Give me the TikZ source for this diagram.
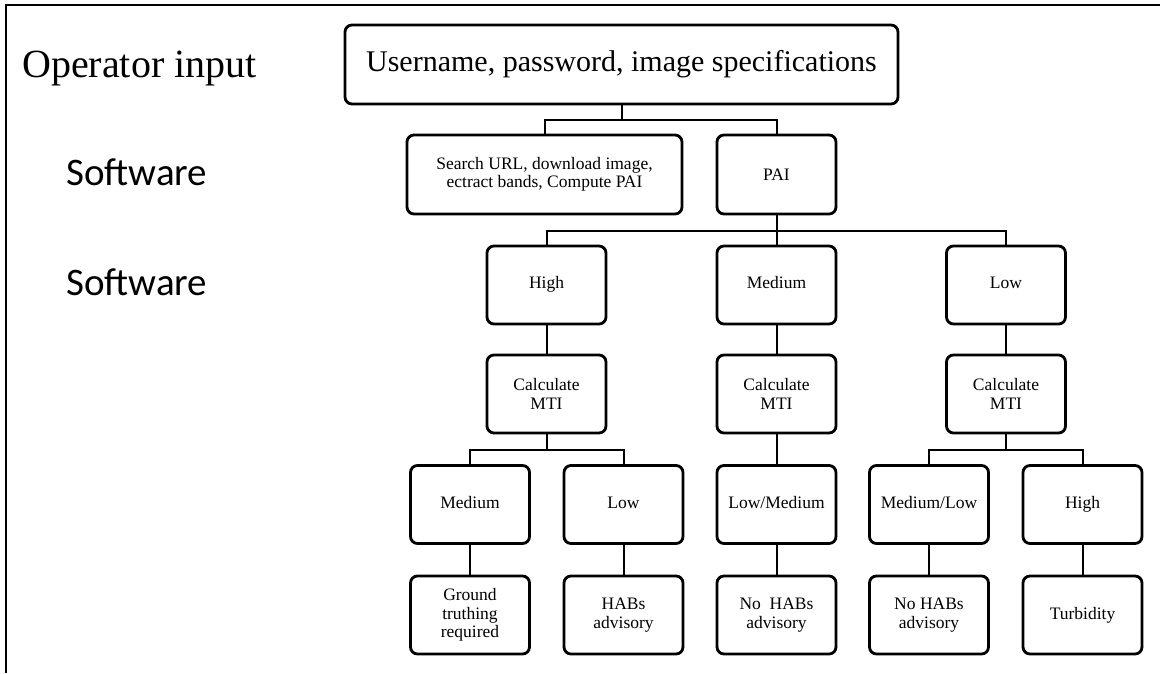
\documentclass[tikz,border=0pt]{standalone}
\usepackage{fontspec}
\setmainfont{Liberation Serif}
\newfontfamily\calibri{Carlito}
\tikzset{box/.style = {draw, rounded corners=7pt, line width=2.8pt, align=center,
                       minimum width=119pt, minimum height=78pt, inner sep=2pt,
                       font=\fontsize{17.5}{18.5}\selectfont},
         link/.style = {line width=2pt},
         side/.style = {anchor=base west, inner sep=0pt}}

\begin{document}
\begin{tikzpicture}[x=1pt, y=-1pt]
    \useasboundingbox (0, 0) rectangle (1160, 673);
    \draw [line width=2.5pt] (6, 673) -- (6, 5) -- (1160, 5);

    \node [side, font=\fontsize{40}{48}\selectfont] (opin) at (22, 77) {Operator input};
    \node [side, font=\calibri\fontsize{39}{46}\selectfont] (soft1) at (66, 185) {Software};
    \node [side, font=\calibri\fontsize{39}{46}\selectfont] (soft2) at (66, 295) {Software};

    \node [box, minimum width=553pt, minimum height=79pt, font=\fontsize{30}{36}\selectfont] (user) at (621.5, 64.5) {Username, password, image specifications};
    \node [box, minimum width=275pt, minimum height=79pt] (search) at (544.5, 174.5) {Search URL, download image,\\ ectract bands, Compute PAI};
    \node [box, minimum height=79pt] (pai) at (776.5, 174.5) {PAI};

    \node [box] (high) at (546.5, 285) {\strut High};
    \node [box] (med) at (776.5, 285) {\strut Medium};
    \node [box] (low) at (1006, 285) {\strut Low};

    \node [box] (mtia) at (546.5, 394) {Calculate\\ MTI};
    \node [box] (mtib) at (776.5, 394) {Calculate\\ MTI};
    \node [box] (mtic) at (1006, 394) {Calculate\\ MTI};

    \node [box] (amed) at (470, 504.5) {\strut Medium};
    \node [box] (alow) at (623.5, 504.5) {\strut Low};
    \node [box] (blowmed) at (776.5, 504.5) {\strut Low/Medium};
    \node [box] (cmedlow) at (929, 504.5) {\strut Medium/Low};
    \node [box] (chigh) at (1082.5, 504.5) {\strut High};

    \node [box] (ground) at (470, 615) {Ground\\ truthing\\ required};
    \node [box] (habs) at (623.5, 615) {HABs\\ advisory};
    \node [box] (nohabsb) at (776.5, 615) {No~ HABs\\ advisory};
    \node [box] (nohabsc) at (929, 615) {No HABs\\ advisory};
    \node [box] (turb) at (1082.5, 615) {Turbidity};

    \draw [link] (user.south) -- ++(0, 15) -| (search.north);
    \draw [link] (user.south) -- ++(0, 15) -| (pai.north);

    \draw [link] (pai.south) -- ++(0, 16) -| (high.north);
    \draw [link] (pai.south) -- ++(0, 16) -| (med.north);
    \draw [link] (pai.south) -- ++(0, 16) -| (low.north);

    \draw [link] (high) -- (mtia);
    \draw [link] (med) -- (mtib);
    \draw [link] (low) -- (mtic);

    \draw [link] (mtia.south) -- ++(0, 16) -| (amed.north);
    \draw [link] (mtia.south) -- ++(0, 16) -| (alow.north);
    \draw [link] (mtib) -- (blowmed);
    \draw [link] (mtic.south) -- ++(0, 16) -| (cmedlow.north);
    \draw [link] (mtic.south) -- ++(0, 16) -| (chigh.north);

    \draw [link] (amed) -- (ground);
    \draw [link] (alow) -- (habs);
    \draw [link] (blowmed) -- (nohabsb);
    \draw [link] (cmedlow) -- (nohabsc);
    \draw [link] (chigh) -- (turb);
\end{tikzpicture}
\end{document}
